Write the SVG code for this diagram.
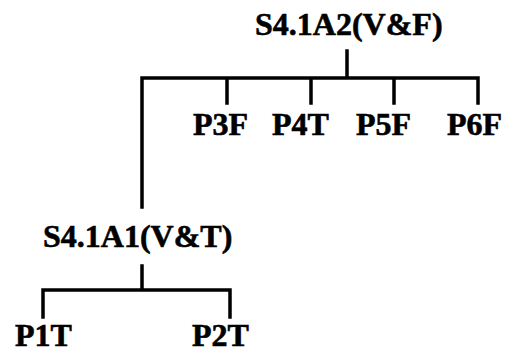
<svg xmlns="http://www.w3.org/2000/svg" width="507" height="354" viewBox="0 0 507 354">
<style>
text{font-family:"Liberation Serif","Times New Roman",serif;font-weight:bold;font-size:32px;fill:#000;stroke:#000;stroke-width:0.6}
.c{stroke:#000;stroke-width:3.5;fill:none;stroke-linecap:square;stroke-linejoin:miter}
</style>
<rect width="507" height="354" fill="#fff"/>
<g id="connectors">
<path class="c" d="M347,51 V78 M142,78 H478 M142,78 V207 M227,78 V103 M311,78 V103 M394,78 V103 M478,78 V103"/>
<path class="c" d="M142,266 V290 M43,290 H230 M43,290 V317 M230,290 V317"/>
</g>
<g id="S4.1A2"><text x="255" y="35">S4.1A2(V&amp;F)</text></g>
<g id="P3F"><text x="193" y="135">P3F</text></g>
<g id="P4T"><text x="272" y="135">P4T</text></g>
<g id="P5F"><text x="356" y="135">P5F</text></g>
<g id="P6F"><text x="447" y="135">P6F</text></g>
<g id="S4.1A1"><text x="43" y="247">S4.1A1(V&amp;T)</text></g>
<g id="P1T"><text x="15" y="346">P1T</text></g>
<g id="P2T"><text x="192" y="346">P2T</text></g>
</svg>
